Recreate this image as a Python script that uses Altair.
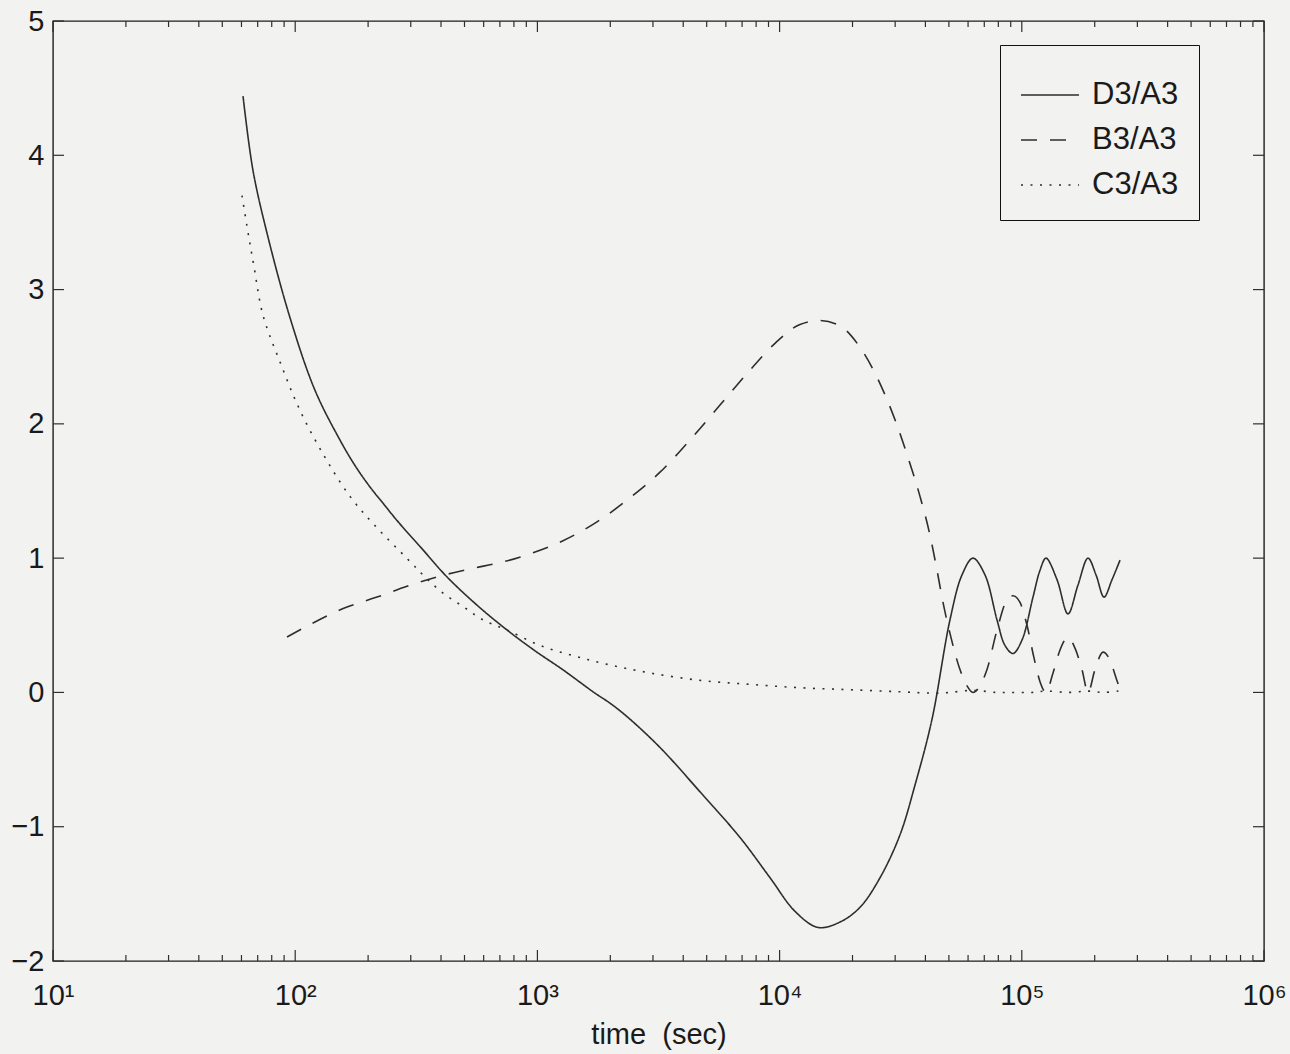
import altair as alt
import pandas as pd

# ---- data ----
series_names = ["D3/A3", "B3/A3", "C3/A3"]

d3_t = [60.9, 66.9, 76.5, 95.2, 120.7, 153, 176.5, 203.6, 232.6, 263.3, 333.9, 423.5, 563.2,
        748.9, 977.3, 1276, 1712, 1994, 2344, 3208,
        4692, 6862, 9130, 11577, 14409, 17756, 21478, 25976, 31417, 36224, 42585, 50511, 56636,
        62878, 70469, 78997, 85224, 91980, 100190, 111220, 118900, 125870, 139750, 155160,
        170610, 187640, 202520, 218550, 235810, 254420]
d3_v = [4.44, 3.89, 3.42, 2.79, 2.25, 1.88, 1.69, 1.53, 1.40, 1.28, 1.07, 0.86, 0.65,
        0.465, 0.31, 0.168, 0.0, -0.08, -0.18, -0.41,
        -0.74, -1.08, -1.38, -1.63, -1.75, -1.71, -1.60, -1.38, -1.06, -0.69, -0.20, 0.54, 0.875,
        1.00, 0.875, 0.54, 0.35, 0.29, 0.39, 0.71, 0.91, 1.0, 0.84, 0.585,
        0.80, 1.0, 0.875, 0.71, 0.84, 0.985]

b3_t = [92.5, 120.7, 160.6, 217.6, 289.4, 385, 526.8, 714, 959, 1276, 1762, 2412, 3208, 4266,
        5674, 7546, 9572, 12140, 14683, 17756, 21478, 25976, 29960, 33890, 37990, 41783, 44660,
        47280, 50511, 55560, 59380, 62878, 67200, 71830, 78997, 86860, 91980, 98310, 105080,
        112300, 118900, 125870, 134540, 143800, 155160, 165820, 177230, 187640, 200570, 216440,
        231330, 244890, 254420]
b3_v = [0.413, 0.525, 0.63, 0.71, 0.79, 0.86, 0.92, 0.97, 1.04, 1.13, 1.27, 1.45, 1.64, 1.88,
        2.14, 2.40, 2.60, 2.74, 2.77, 2.73, 2.57, 2.30, 2.03, 1.75, 1.46, 1.17, 0.91,
        0.67, 0.44, 0.17, 0.05, 0.0, 0.05, 0.17, 0.465, 0.69, 0.72, 0.67, 0.50,
        0.257, 0.08, 0.0, 0.145, 0.316, 0.41, 0.33, 0.17, 0.0, 0.17, 0.30,
        0.24, 0.11, 0.02]

c3_t = [60.3, 63.8, 67.6, 73.6, 86.6, 104.7, 132.8, 168.4, 211.5, 292.2, 343.6, 407.6, 492.9,
        596.3, 748.9, 1025, 1430, 1994, 2917, 4692, 7546, 12140, 19530, 31417, 45950, 62878,
        78997, 91980, 110000, 125870, 155160, 187640, 218550, 254420]
c3_v = [3.70, 3.43, 3.17, 2.81, 2.46, 2.10, 1.75, 1.46, 1.25, 0.99, 0.86, 0.74, 0.64,
        0.54, 0.465, 0.35, 0.27, 0.205, 0.145, 0.09, 0.06, 0.035, 0.02, 0.005, -0.005, 0.015,
        0.0, 0.0, 0.0, 0.01, 0.0, 0.01, 0.0, 0.012]

x_major = [10, 100, 1000, 10000, 100000, 1000000]
x_minor = [m * 10 ** k for k in range(1, 6) for m in range(2, 10)]
y_ticks = [-2, -1, 0, 1, 2, 3, 4, 5]

# ---- build table ----
rows = []
for name, ts, vs in [("D3/A3", d3_t, d3_v), ("B3/A3", b3_t, b3_v), ("C3/A3", c3_t, c3_v)]:
    for t, v in zip(ts, vs):
        rows.append({"series": name, "t": t, "v": v})
df = pd.DataFrame(rows)

W, H = 1211, 940
INK = "#2e2e2e"
BG = "#f2f2f0"
FONT = "Liberation Sans"

x_scale = alt.Scale(type="log", domain=[10, 1000000], nice=False)
y_scale = alt.Scale(domain=[-2, 5], nice=False, zero=False)

sup_expr = ("'10' + ['\u2070','\u00b9','\u00b2','\u00b3','\u2074','\u2075','\u2076']"
            "[round(log(datum.value)/LN10)]")

x_axis = alt.Axis(values=x_major, labelExpr=sup_expr, ticks=False, domain=False,
                  grid=False, title="time\u00a0 (sec)", labelPadding=20,
                  titlePadding=10, labelFlush=False, labelOverlap=False)
y_axis = alt.Axis(values=y_ticks, ticks=False, domain=False, grid=False, title=None,
                  labelPadding=9, labelFlush=False, labelOverlap=False)

X = alt.X("t:Q", scale=x_scale, axis=x_axis, title="time\u00a0 (sec)")
Y = alt.Y("v:Q", scale=y_scale, axis=y_axis, title=None)

dash = alt.StrokeDash(
    "series:N",
    scale=alt.Scale(domain=series_names, range=[[1, 0], [16, 13], [2, 7.5]]),
    legend=alt.Legend(title=None, orient="none", legendX=947, legendY=24,
                      symbolType="stroke", symbolSize=3364, symbolStrokeWidth=1.6,
                      symbolStrokeColor=INK, labelFontSize=31, labelFont=FONT,
                      labelColor="#1a1a1a", labelOffset=12, rowPadding=-15, padding=20,
                      strokeColor="#111", fillColor=BG, cornerRadius=0),
)

base = alt.Chart(df)
solid_dotted = base.transform_filter(
    alt.FieldOneOfPredicate(field="series", oneOf=["D3/A3", "C3/A3"])
).mark_line(interpolate="catmull-rom", strokeWidth=1.6, color=INK).encode(
    x=X, y=Y, strokeDash=dash)
dashed = base.transform_filter(
    alt.FieldEqualPredicate(field="series", equal="B3/A3")
).mark_line(interpolate="monotone", strokeWidth=1.6, color=INK).encode(
    x=X, y=Y, strokeDash=dash)


def xticks(vals, length, top):
    d = pd.DataFrame({"t": vals})
    y0 = 0 if top else H
    y1 = length if top else H - length
    return alt.Chart(d).mark_rule(color=INK, strokeWidth=1.2).encode(
        x=X, y=alt.value(y0), y2=alt.value(y1))


def yticks(vals, length, right):
    d = pd.DataFrame({"v": vals})
    x0 = W if right else 0
    x1 = W - length if right else length
    return alt.Chart(d).mark_rule(color=INK, strokeWidth=1.2).encode(
        y=Y, x=alt.value(x0), x2=alt.value(x1))


layers = [
    solid_dotted, dashed,
    xticks(x_major, 11, False), xticks(x_major, 11, True),
    xticks(x_minor, 6, False), xticks(x_minor, 6, True),
    yticks(y_ticks, 11, False), yticks(y_ticks, 11, True),
]

chart = alt.layer(*layers).properties(
    width=W, height=H, autosize="none",
    padding={"left": 53, "top": 21, "right": 26, "bottom": 93},
    background=BG,
).configure_view(stroke="#1e1e1e", strokeWidth=1.4).configure_axis(
    labelFont=FONT, labelFontSize=29, labelColor="#1a1a1a",
    titleFont=FONT, titleFontSize=29, titleColor="#1a1a1a", titleFontWeight="normal",
)

chart.save("out.html", embed_options={"renderer": "svg", "actions": False})
